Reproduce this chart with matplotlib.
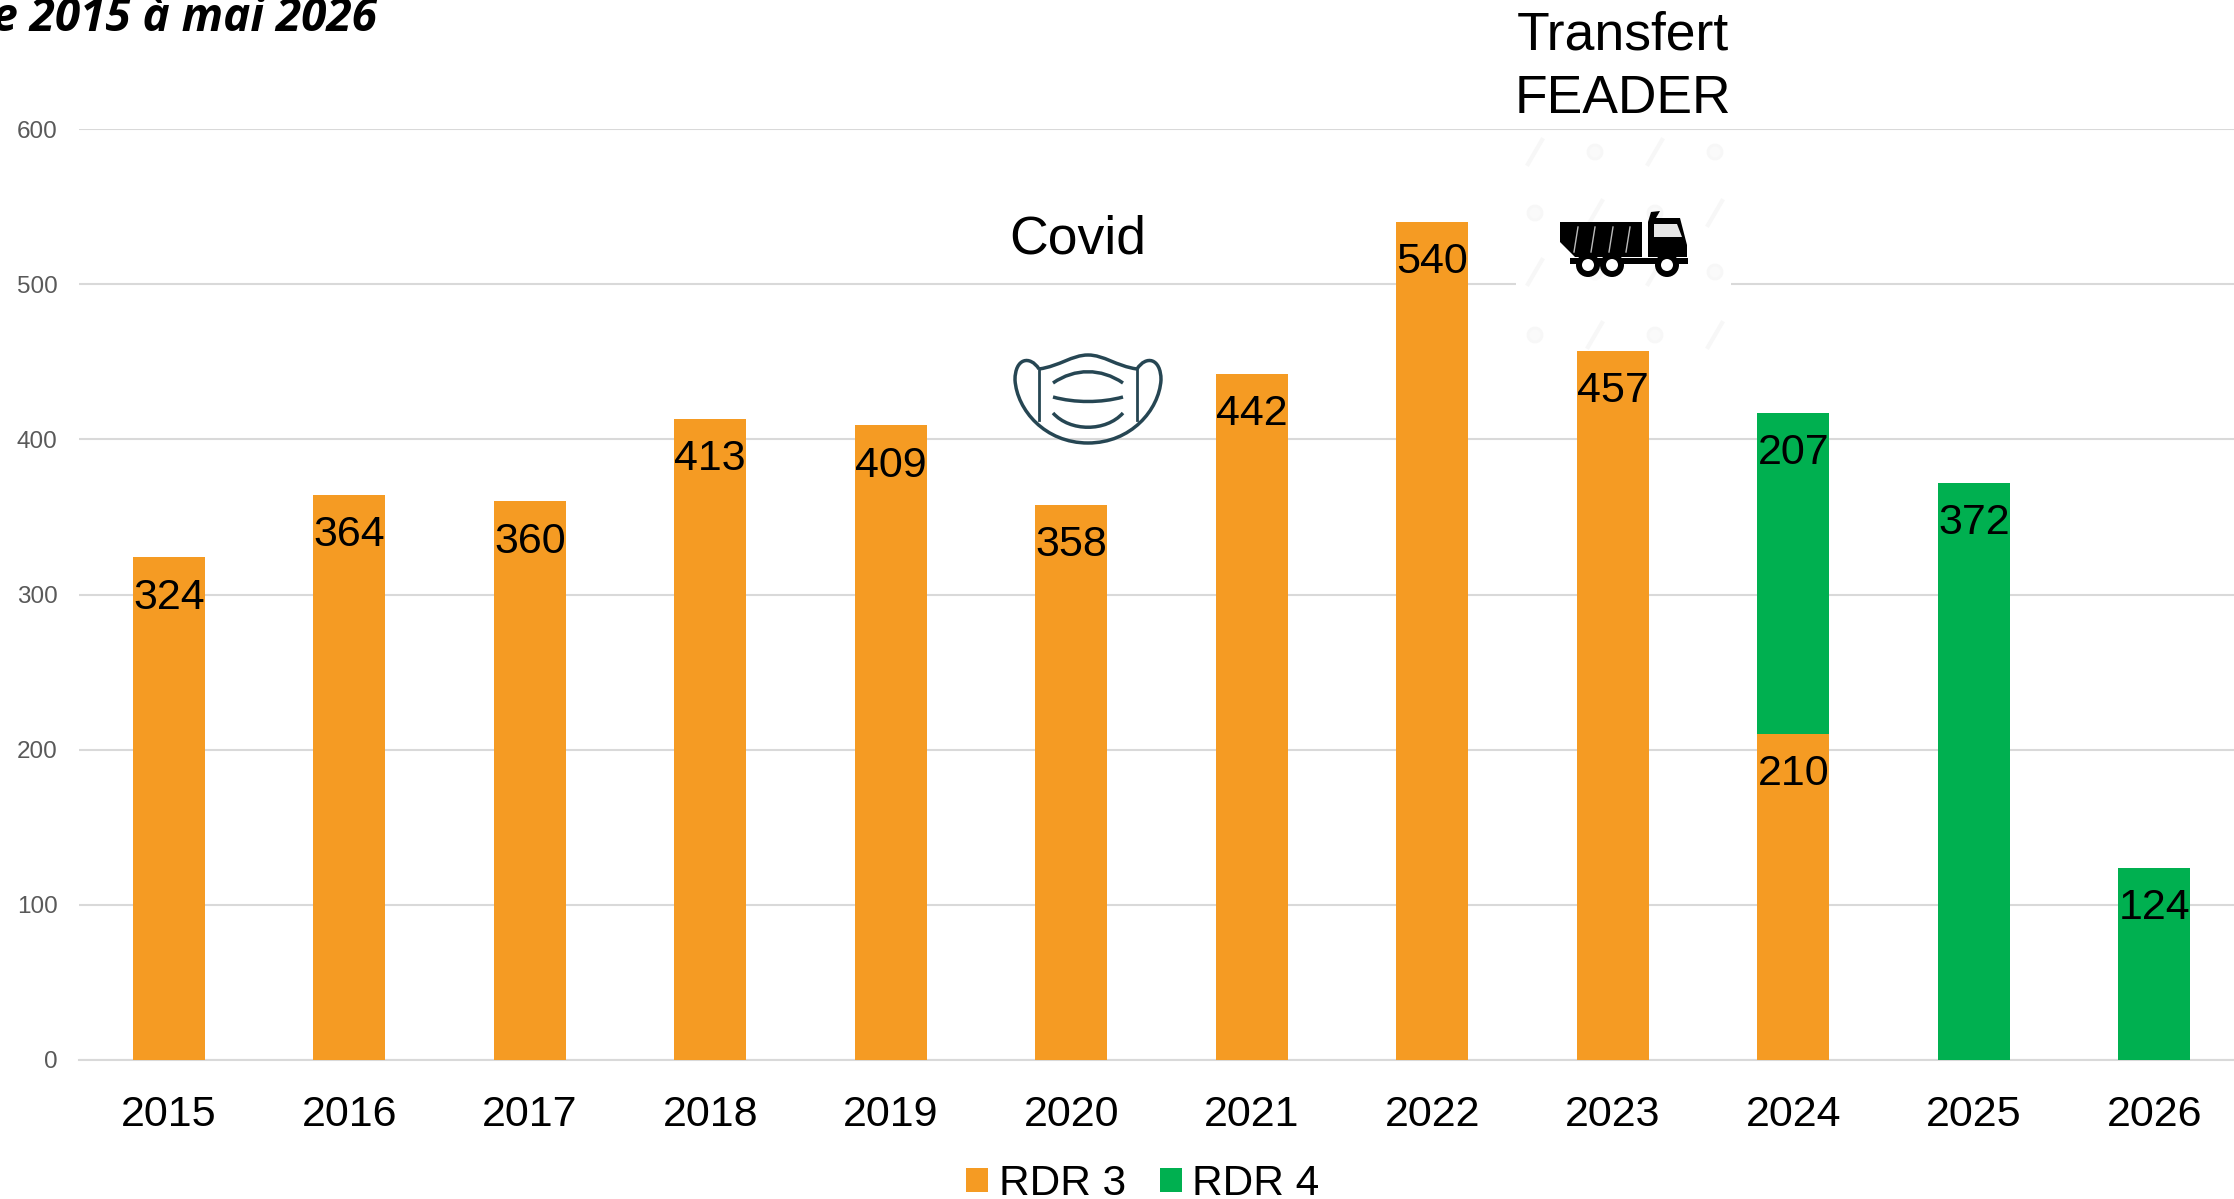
import matplotlib
matplotlib.use('Agg')
import matplotlib.pyplot as plt
from matplotlib.patches import PathPatch, Polygon, Circle, Rectangle
from matplotlib.path import Path

years = ['2015', '2016', '2017', '2018', '2019', '2020', '2021', '2022', '2023', '2024', '2025', '2026']
rdr3 = [324, 364, 360, 413, 409, 358, 442, 540, 457, 210, 0, 0]
rdr4 = [0, 0, 0, 0, 0, 0, 0, 0, 0, 207, 372, 124]
y_ticks = [0, 100, 200, 300, 400, 500, 600]

ORANGE = '#F59B23'
GREEN = '#00B050'
W, H = 2234, 1199

plt.rcParams['font.family'] = ['Liberation Sans', 'DejaVu Sans']

fig = plt.figure(figsize=(W / 100, H / 100), dpi=100)
ax = fig.add_axes([78.5 / W, 1 - 1060 / H, (W - 78.5) / W, 931 / H])

x = list(range(len(years)))
ax.bar(x, rdr3, width=0.4, color=ORANGE, label='RDR 3', zorder=3)
ax.bar(x, rdr4, width=0.4, bottom=rdr3, color=GREEN, label='RDR 4', zorder=3)

# value labels sit just inside the top of each segment
for i in x:
    if rdr3[i]:
        ax.annotate(str(rdr3[i]), (i, rdr3[i]), xytext=(0, -29), textcoords='offset points',
                    ha='center', va='center', fontsize=31, color='black', zorder=5)
    if rdr4[i]:
        ax.annotate(str(rdr4[i]), (i, rdr3[i] + rdr4[i]), xytext=(0, -29), textcoords='offset points',
                    ha='center', va='center', fontsize=31, color='black', zorder=5)

ax.set_xlim(-0.5, (W - 78.5) / 180.5 - 0.5)
ax.set_ylim(0, 600)
ax.set_xticks(x, years, fontsize=31, color='black')
ax.set_yticks(y_ticks)
ax.set_yticklabels([str(v) for v in y_ticks], fontsize=17.5, color='#595959')
ax.tick_params(axis='x', length=0, pad=25)
ax.tick_params(axis='y', length=0, pad=15)
ax.grid(axis='y', color='#d9d9d9', linewidth=1.5, zorder=0)
ax.set_axisbelow(True)
for s in ['top', 'right', 'left']:
    ax.spines[s].set_visible(False)
ax.spines['bottom'].set_color('#d9d9d9')
ax.spines['bottom'].set_linewidth(1.5)

fig.legend(loc='center', bbox_to_anchor=(1143 / W, 1 - 1184 / H), ncols=2, frameon=False, fontsize=30.5,
           handlelength=0.52, handleheight=0.52, handletextpad=0.25, columnspacing=0.8,
           borderpad=0, labelspacing=0)

# overlay in pixel coordinates for the annotations and icons
ov = fig.add_axes([0, 0, 1, 1], zorder=10)
ov.set_xlim(0, W)
ov.set_ylim(H, 0)
ov.axis('off')
ov.patch.set_alpha(0)

ov.text(377, 31, 'de 2015 à mai 2026', family='Open Sans', fontsize=33, fontweight='bold', fontstyle='italic',
        ha='right', va='baseline', color='black')
ov.text(1078, 240, 'Covid', fontsize=38.5, ha='center', va='center')
ov.text(1623, 36, 'Transfert', fontsize=38.5, ha='center', va='center')
ov.text(1623, 99, 'FEADER', fontsize=38.5, ha='center', va='center')

# white picture box behind the truck, with its faint watermark
ov.add_patch(Rectangle((1516, 135), 215, 212, facecolor='white', edgecolor='none', zorder=1))
for r, by in enumerate((152, 213, 272, 335)):
    for c, bx in enumerate((1535, 1595, 1655, 1715)):
        if (r + c) % 2 == 0:
            ov.plot([bx - 7, bx + 7], [by + 12, by - 12], color='#f7f7f7', lw=3, zorder=1)
        else:
            ov.add_patch(Circle((bx, by), 7, facecolor='#fafafa', edgecolor='#f7f7f7', lw=2, zorder=1))

# truck
ov.add_patch(Polygon([(1560, 222), (1642, 222), (1642, 257), (1575, 257), (1560, 242)], facecolor='black', zorder=2))
ov.add_patch(Polygon([(1648, 257), (1648, 222), (1651, 212), (1660, 211), (1656, 218), (1680, 218),
                      (1687, 245), (1687, 257)], facecolor='black', zorder=2))
ov.add_patch(Polygon([(1654, 224), (1677, 224), (1682, 237), (1654, 237)], facecolor='#e6e6e6', zorder=3))
ov.add_patch(Rectangle((1570, 258), 118, 6, facecolor='black', zorder=2))
for bx in (1575, 1592, 1610, 1627):
    ov.plot([bx + 3, bx - 1], [227, 252], color='#bbbbbb', lw=1, zorder=3)
for cx in (1588, 1612, 1667):
    ov.add_patch(Circle((cx, 265), 12, facecolor='black', zorder=3))
    ov.add_patch(Circle((cx, 265), 6, facecolor='white', zorder=4))

# mask
MASK = '#264653'
top = Path([(1039, 369), (1060, 366), (1072, 355), (1088, 355), (1104, 355), (1116, 366), (1137, 369)],
           [1, 4, 4, 4, 4, 4, 4])
outer = Path([(1039, 369), (1030, 355), (1015, 358), (1015, 380), (1017, 410), (1045, 443), (1088, 443),
              (1131, 443), (1159, 410), (1161, 380), (1161, 358), (1146, 355), (1137, 369)],
             [1, 4, 4, 4, 4, 4, 4, 4, 4, 4, 4, 4, 4])
ov.add_patch(PathPatch(top, facecolor='none', edgecolor=MASK, lw=2.5, zorder=3))
ov.add_patch(PathPatch(outer, facecolor='none', edgecolor=MASK, lw=2.5, zorder=3))
ov.plot([1039, 1039], [369, 420], color=MASK, lw=2, zorder=3)
ov.plot([1137, 1137], [369, 420], color=MASK, lw=2, zorder=3)
for pts in ([(1053, 383), (1075, 368), (1101, 368), (1123, 383)],
            [(1053, 397), (1075, 403), (1101, 403), (1123, 397)],
            [(1053, 413), (1070, 432), (1106, 432), (1123, 413)]):
    ov.add_patch(PathPatch(Path(pts, [1, 4, 4, 4]), facecolor='none', edgecolor=MASK, lw=2.5, zorder=3))

fig.savefig('out.png', dpi=100)
